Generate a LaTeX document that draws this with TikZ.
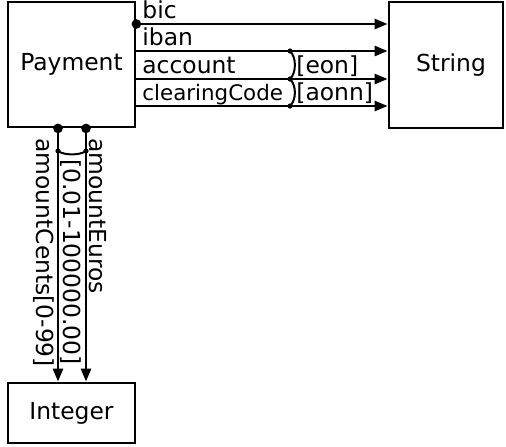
\documentclass[tikz,border=0pt]{standalone}
\usepackage{fontspec}
\setmainfont{DejaVu Sans}
\usetikzlibrary{arrows.meta}
\definecolor{umlline}{HTML}{000000}
\tikzset{
  classbox/.style={
    rectangle,
    draw=umlline,
    line width=1.4pt,
    inner sep=0pt,
    font=\fontsize{11.7}{14}\selectfont
  },
  fieldarrow/.style={-{Triangle[length=6.5pt,width=5pt]}, line width=1.3pt, draw=umlline},
  fieldlabel/.style={inner sep=0pt, font=\fontsize{11.7}{14}\selectfont},
  smalllabel/.style={fieldlabel, font=\fontsize{10.7}{13}\selectfont},
  downlabel/.style={fieldlabel, rotate=-90, anchor=base west},
  bigjoint/.style={circle, fill=umlline, inner sep=0pt, minimum size=4.8pt},
  smalljoint/.style={circle, fill=umlline, inner sep=0pt, minimum size=2.6pt},
  groupbrace/.style={line width=1pt, draw=umlline}
}

\begin{document}
\begin{tikzpicture}[x=0.5pt, y=-0.5pt]
\useasboundingbox (0,0) rectangle (506,446);
\node[classbox, minimum width=63.5pt, minimum height=62.5pt] (payment) at (71.5,64.5) {Payment};
\node[classbox, minimum width=57pt, minimum height=63pt] (string) at (446,65) {\hspace*{5pt}String};
\node[classbox, minimum width=63.5pt, minimum height=30pt] (integer) at (71.5,413) {Integer};
% fields to String
\node[bigjoint] (bicdot) at (payment.east |- 0,24) {};
\draw[fieldarrow] (bicdot.center) -- (string.west |- bicdot);
\draw[fieldarrow] (payment.east |- 0,51) -- (string.west |- 0,51);
\draw[fieldarrow] (payment.east |- 0,79) -- (string.west |- 0,79);
\draw[fieldarrow] (payment.east |- 0,106) -- (string.west |- 0,106);
\node[fieldlabel, anchor=base west] (biclbl) at (142,18) {bic};
\node[fieldlabel, anchor=base west] (ibanlbl) at (142,45) {iban};
\node[fieldlabel, anchor=base west] (accountlbl) at (142,73) {account};
\node[smalllabel, anchor=base west] (clearinglbl) at (142,100) {clearingCode};
% value ranges
\node[smalljoint] (rangeA) at (290,51) {};
\node[smalljoint] (rangeB) at (290,79) {};
\node[smalljoint] (rangeC) at (290,106) {};
\draw[groupbrace] (rangeA.center) .. controls +(6.5,6) and +(6.5,-6) .. (rangeB.center);
\draw[groupbrace] (rangeB.center) .. controls +(6.5,6) and +(6.5,-6) .. (rangeC.center);
\node[fieldlabel, anchor=base west] (eonlbl) at (296,73) {[eon]};
\node[fieldlabel, anchor=base west] (aonnlbl) at (296,100) {[aonn]};
% fields to Integer
\node[bigjoint] (centsdot) at (payment.south -| 58,0) {};
\node[bigjoint] (eurosdot) at (payment.south -| 86,0) {};
\draw[fieldarrow] (centsdot.center) -- (integer.north -| centsdot);
\draw[fieldarrow] (eurosdot.center) -- (integer.north -| eurosdot);
\node[smalljoint] (rangeD) at (58,151) {};
\node[smalljoint] (rangeE) at (86,151) {};
\draw[groupbrace] (rangeD.center) .. controls +(6,4.5) and +(-6,4.5) .. (rangeE.center);
\node[downlabel] (euroslbl) at (89.5,138) {amountEuros};
\node[downlabel] (eurorange) at (63.5,159) {[0.01-100000.00]};
\node[downlabel] (centslbl) at (36,138) {amountCents[0-99]};
\end{tikzpicture}
\end{document}
